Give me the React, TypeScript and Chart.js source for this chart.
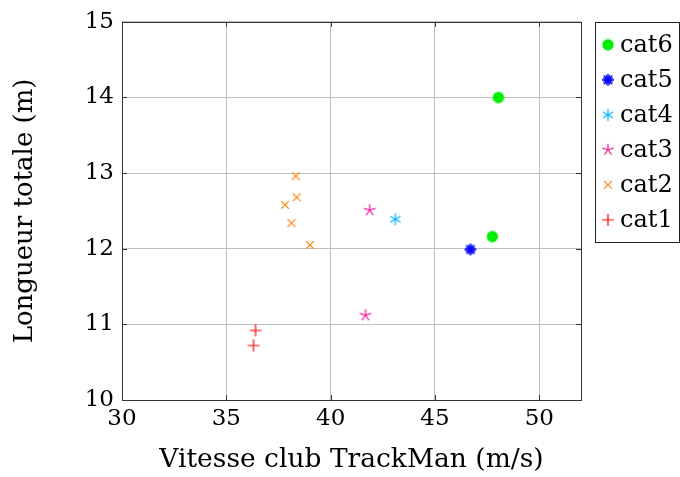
import React, { useEffect, useRef } from "react";
import { Chart, registerables } from "chart.js";

Chart.register(...registerables);

const labels = ["cat1", "cat2", "cat3", "cat4", "cat5", "cat6"];
const cat1X = [36.4, 36.3];
const cat1Y = [10.92, 10.72];
const cat2X = [38.33, 38.37, 37.81, 38.12, 39.01];
const cat2Y = [12.96, 12.68, 12.58, 12.34, 12.05];
const cat3X = [41.87, 41.67];
const cat3Y = [12.51, 11.12];
const cat4X = [43.1];
const cat4Y = [12.39];
const cat5X = [46.7];
const cat5Y = [11.99];
const cat6X = [48.04, 47.75];
const cat6Y = [14.0, 12.16];
const xTicks = [30, 35, 40, 45, 50];
const yTicks = [10, 11, 12, 13, 14, 15];

const colors = ["#ff0000", "#ff8000", "#f0149a", "#00b4ff", "#0000ff", "#00ee00"];
const markers = ["plus", "x", "star5", "ast6", "ast8", "circle"];

const FONT = "'DejaVu Serif', 'Liberation Serif', serif";

function makeMarker(type: string, color: string): HTMLCanvasElement {
  const c = document.createElement("canvas");
  const s = 16;
  c.width = s;
  c.height = s;
  const ctx = c.getContext("2d")!;
  const cx = s / 2;
  const cy = s / 2;
  ctx.strokeStyle = color;
  ctx.fillStyle = color;
  ctx.lineWidth = 1.2;
  const lines = (n: number, r: number, start: number) => {
    ctx.beginPath();
    for (let i = 0; i < n; i++) {
      const a = start + (i * Math.PI) / n;
      ctx.moveTo(cx - r * Math.cos(a), cy - r * Math.sin(a));
      ctx.lineTo(cx + r * Math.cos(a), cy + r * Math.sin(a));
    }
    ctx.stroke();
  };
  const spokes = (n: number, r: number, start: number) => {
    ctx.beginPath();
    for (let i = 0; i < n; i++) {
      const a = start + (i * 2 * Math.PI) / n;
      ctx.moveTo(cx, cy);
      ctx.lineTo(cx + r * Math.cos(a), cy + r * Math.sin(a));
    }
    ctx.stroke();
  };
  if (type === "circle") {
    ctx.beginPath();
    ctx.arc(cx, cy, 5.7, 0, Math.PI * 2);
    ctx.fill();
  } else if (type === "plus") {
    lines(2, 6, 0);
  } else if (type === "x") {
    lines(2, 5.5, Math.PI / 4);
  } else if (type === "star5") {
    spokes(5, 6, -Math.PI / 2);
  } else if (type === "ast6") {
    lines(3, 6, Math.PI / 2);
  } else if (type === "ast8") {
    ctx.lineWidth = 1.4;
    lines(4, 6, 0);
    lines(4, 5, Math.PI / 8);
  }
  return c;
}

function zip(xs: number[], ys: number[]) {
  return xs.map((x, i) => ({ x, y: ys[i] }));
}

export default function App() {
  const ref = useRef<HTMLCanvasElement>(null);
  useEffect(() => {
    const imgs = markers.map((m, i) => makeMarker(m, colors[i]));
    const xs = [cat1X, cat2X, cat3X, cat4X, cat5X, cat6X];
    const ys = [cat1Y, cat2Y, cat3Y, cat4Y, cat5Y, cat6Y];

    const framePlugin = {
      id: "frame",
      afterDatasetsDraw(chart: any) {
        const { ctx, chartArea: a } = chart;
        ctx.save();
        ctx.strokeStyle = "#333";
        ctx.lineWidth = 1;
        const xs2 = chart.scales.x;
        const ys2 = chart.scales.y;
        ctx.beginPath();
        for (const t of xTicks) {
          const px = Math.round(xs2.getPixelForValue(t)) + 0.5;
          ctx.moveTo(px, a.bottom);
          ctx.lineTo(px, a.bottom - 5);
          ctx.moveTo(px, a.top);
          ctx.lineTo(px, a.top + 5);
        }
        for (const t of yTicks) {
          const py = Math.round(ys2.getPixelForValue(t)) + 0.5;
          ctx.moveTo(a.left, py);
          ctx.lineTo(a.left + 5, py);
          ctx.moveTo(a.right, py);
          ctx.lineTo(a.right - 5, py);
        }
        ctx.stroke();
        ctx.strokeRect(Math.round(a.left) + 0.5, Math.round(a.top) + 0.5, Math.round(a.right - a.left), Math.round(a.bottom - a.top));
        ctx.restore();
      },
      afterDraw(chart: any) {
        const { ctx, chartArea: a } = chart;
        ctx.save();
        const lx = a.right + 14;
        const ly = a.top;
        ctx.strokeStyle = "#222";
        ctx.lineWidth = 1;
        ctx.strokeRect(Math.round(lx) + 0.5, Math.round(ly) + 0.5, 84, 220);
        ctx.font = `24px ${FONT}`;
        ctx.fillStyle = "#000";
        ctx.textBaseline = "middle";
        const n = labels.length;
        for (let k = 0; k < n; k++) {
          const i = n - 1 - k;
          const cy = ly + 23 + k * 35;
          ctx.drawImage(imgs[i], lx + 13 - 8, cy - 8);
          ctx.fillText(labels[i], lx + 25, cy + 1);
        }
        ctx.restore();
      },
    };

    const chart = new Chart(ref.current!, {
      type: "scatter",
      data: {
        datasets: labels.map((l, i) => ({
          label: l,
          data: zip(xs[i], ys[i]),
          pointStyle: imgs[i] as any,
          backgroundColor: colors[i],
          borderColor: colors[i],
        })),
      },
      plugins: [framePlugin],
      options: {
        animation: false,
        responsive: false,
        layout: { padding: { top: 21, right: 99, left: 0, bottom: 0 } },
        plugins: { legend: { display: false }, tooltip: { enabled: false } },
        scales: {
          x: {
            type: "linear",
            min: 30,
            max: 52,
            afterBuildTicks: (s: any) => {
              s.ticks = xTicks.map((v) => ({ value: v }));
            },
            afterFit: (s: any) => {
              s.height = 77;
            },
            ticks: { font: { family: FONT, size: 23 }, color: "#000", padding: 5 },
            grid: { color: "#c0c0c0", lineWidth: 1, drawTicks: false },
            border: { display: false },
            title: {
              display: true,
              text: "Vitesse club TrackMan (m/s)",
              font: { family: FONT, size: 26.5 },
              color: "#000",
              padding: { top: 0, bottom: 1 },
            },
          },
          y: {
            type: "linear",
            min: 10,
            max: 15,
            afterBuildTicks: (s: any) => {
              s.ticks = yTicks.map((v) => ({ value: v }));
            },
            afterFit: (s: any) => {
              s.width = 122;
            },
            ticks: { font: { family: FONT, size: 23 }, color: "#000", padding: 8 },
            grid: { color: "#c0c0c0", lineWidth: 1, drawTicks: false },
            border: { display: false },
            title: {
              display: true,
              text: "Longueur totale (m)",
              font: { family: FONT, size: 26 },
              color: "#000",
              padding: { top: 10, bottom: 0 },
            },
          },
        },
      },
    });
    return () => chart.destroy();
  }, []);
  return (
    <div style={{ position: "absolute", left: 0, top: 0, width: 680, height: 477 }}>
      <canvas ref={ref} width={680} height={477} style={{ width: 680, height: 477 }} />
    </div>
  );
}
